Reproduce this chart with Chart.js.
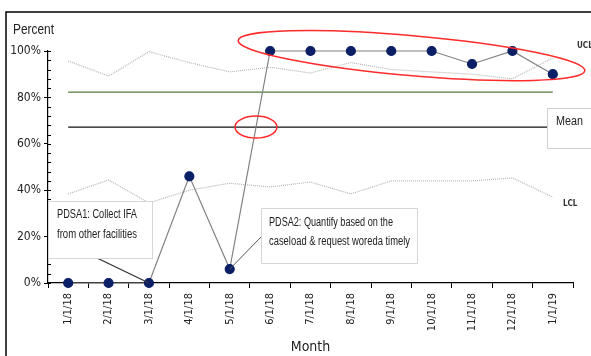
<!DOCTYPE html>
<html>
<head>
<meta charset="utf-8">
<script src="https://cdn.jsdelivr.net/npm/chart.js@4.4.1/dist/chart.umd.min.js"></script>
<style>
    html, body { margin: 0; padding: 0; background: #fff; }
    #wrap { position: relative; width: 591px; height: 356px; overflow: hidden; }
</style>
</head>
<body>
<div id="wrap"><canvas id="myChart" width="591" height="356"></canvas></div>
<script>
const months = ['1/1/18', '2/1/18', '3/1/18', '4/1/18', '5/1/18', '6/1/18', '7/1/18',
    '8/1/18', '9/1/18', '10/1/18', '11/1/18', '12/1/18', '1/1/19'];
const percent = [0, 0, 0, 46, 6, 100, 100, 100, 100, 100, 94.4, 100, 90];
const ucl = [95.7, 89.2, 99.7, 95, 91, 93, 90.5, 95, 92, 91, 90, 88, 97];
const lcl = [38.4, 44.4, 34.5, 40, 43, 41.4, 43.5, 38.4, 44, 44, 44, 45.3, 37];
const meanLine = [67.2, 67.2, 67.2, 67.2, 67.2, 67.2, 67.2, 67.2, 67.2, 67.2, 67.2, 67.2, 67.2];
const greenLine = [82.3, 82.3, 82.3, 82.3, 82.3, 82.3, 82.3, 82.3, 82.3, 82.3, 82.3, 82.3, 82.3];

const narrow = "'Liberation Sans Narrow', 'Arial Narrow', 'DejaVu Sans Condensed', sans-serif";
const plain = "'Liberation Sans', Arial, sans-serif";

// boxes, labels, ellipses and frame
const extras = {
    id: 'extras',
    afterDatasetsDraw(chart) {
        const c = chart.ctx;
        const x = chart.scales.x;
        const y = chart.scales.y;

        // inside minor ticks on y axis
        c.save();
        c.strokeStyle = '#000';
        c.lineWidth = 1;
        for (let v = 0; v <= 100; v += 4) {
            const py = Math.round(y.getPixelForValue(v)) + 0.5;
            c.beginPath();
            c.moveTo(x.left, py);
            c.lineTo(x.left + 3, py);
            c.stroke();
        }

        // frame
        c.lineWidth = 1.5;
        c.beginPath();
        c.moveTo(6, 356);
        c.lineTo(6, 12);
        c.lineTo(591, 12);
        c.stroke();

        // axis title
        c.fillStyle = '#222';
        c.font = '14px ' + plain;
        c.textBaseline = 'middle';
        c.textAlign = 'left';
        c.fillText('Percent', 13, 30, 41);

        // UCL / LCL labels
        c.font = 'bold 8px ' + narrow;
        c.fillStyle = '#333';
        c.fillText('UCL', 577, 46);
        c.fillText('LCL', 563, 204);

        // Mean box
        c.fillStyle = '#fff';
        c.strokeStyle = '#d0d0d0';
        c.lineWidth = 1;
        c.fillRect(547, 108, 50, 40);
        c.strokeRect(547.5, 108.5, 50, 40);
        c.fillStyle = '#222';
        c.font = '12px ' + plain;
        c.fillText('Mean', 556, 122, 27);

        // PDSA1 connector + box
        c.strokeStyle = '#333';
        c.lineWidth = 1.3;
        c.beginPath();
        c.moveTo(97, 258);
        c.lineTo(x.getPixelForValue(2), y.getPixelForValue(0));
        c.stroke();
        c.fillStyle = '#fff';
        c.strokeStyle = '#d6d6d6';
        c.lineWidth = 1;
        c.fillRect(48, 201, 104, 57);
        c.strokeRect(48.5, 201.5, 104, 57);
        c.fillStyle = '#222';
        c.font = '12px ' + plain;
        c.fillText('PDSA1: Collect IFA', 57, 215, 80);
        c.fillText('from other facilities', 57, 235, 80);

        // PDSA2 connector + box
        c.strokeStyle = '#555';
        c.lineWidth = 1;
        c.beginPath();
        c.moveTo(x.getPixelForValue(4), y.getPixelForValue(6));
        c.lineTo(262, 236);
        c.stroke();
        c.fillStyle = '#fff';
        c.strokeStyle = '#d6d6d6';
        c.fillRect(261, 208, 156, 55);
        c.strokeRect(261.5, 208.5, 156, 55);
        c.fillStyle = '#222';
        c.fillText('PDSA2: Quantify based on the', 269, 223, 124);
        c.fillText('caseload & request woreda timely', 269, 242, 141);

        // red ellipses
        c.strokeStyle = '#ff2a2a';
        c.lineWidth = 1.5;
        c.beginPath();
        c.ellipse(x.getPixelForValue(8.5), y.getPixelForValue(98), 174, 20, 5 * Math.PI / 180, 0, Math.PI * 2);
        c.stroke();
        c.beginPath();
        c.ellipse(x.getPixelForValue(4.65), y.getPixelForValue(67.2), 21, 11, 0, 0, Math.PI * 2);
        c.stroke();
        c.restore();
    }
};

const ctx = document.getElementById('myChart').getContext('2d');
const myChart = new Chart(ctx, {
    type: 'line',
    data: {
        labels: months,
        datasets: [
            {
                label: 'Percent',
                data: percent,
                borderColor: '#808080',
                borderWidth: 1.2,
                backgroundColor: '#0b1f66',
                pointBackgroundColor: '#0b1f66',
                pointBorderColor: '#0b1f66',
                pointRadius: 4.5,
                tension: 0,
                order: 0
            },
            {
                label: 'UCL',
                data: ucl,
                borderColor: '#b5b5b5',
                borderWidth: 1.2,
                borderDash: [1, 1],
                pointRadius: 0,
                tension: 0,
                order: 3
            },
            {
                label: 'LCL',
                data: lcl,
                borderColor: '#b5b5b5',
                borderWidth: 1.2,
                borderDash: [1, 1],
                pointRadius: 0,
                tension: 0,
                order: 3
            },
            {
                label: 'Target',
                data: greenLine,
                borderColor: '#4f7a3a',
                borderWidth: 1.2,
                pointRadius: 0,
                order: 2
            },
            {
                label: 'Mean',
                data: meanLine,
                borderColor: '#111',
                borderWidth: 1.3,
                pointRadius: 0,
                order: 2
            }
        ]
    },
    options: {
        responsive: false,
        animation: false,
        clip: false,
        layout: {
            padding: { top: 51, right: 18, left: 0, bottom: 0 }
        },
        plugins: {
            legend: { display: false },
            tooltip: { enabled: false }
        },
        scales: {
            x: {
                offset: true,
                afterFit: (scale) => { scale.height = 73; },
                grid: {
                    offset: true,
                    drawOnChartArea: false,
                    tickLength: 5,
                    tickColor: '#000'
                },
                border: { color: '#000', width: 1.2 },
                ticks: {
                    autoSkip: false,
                    maxRotation: 90,
                    minRotation: 90,
                    padding: 5,
                    color: '#222',
                    font: { size: 11, family: narrow }
                },
                title: {
                    display: true,
                    text: 'Month',
                    color: '#222',
                    padding: 0,
                    font: { size: 14, family: narrow }
                }
            },
            y: {
                min: 0,
                max: 100,
                afterFit: (scale) => { scale.width = 48; },
                grid: {
                    drawOnChartArea: false,
                    tickLength: 4,
                    tickColor: (c) => (c.tick && c.tick.value % 20 === 0) ? '#000' : 'rgba(0,0,0,0)'
                },
                border: { color: '#000', width: 1.2 },
                ticks: {
                    stepSize: 4,
                    autoSkip: false,
                    padding: 3,
                    color: '#222',
                    font: { size: 12, family: narrow },
                    callback: (v) => (v % 20 === 0) ? v + '%' : ''
                }
            }
        }
    },
    plugins: [extras]
});
</script>
</body>
</html>
